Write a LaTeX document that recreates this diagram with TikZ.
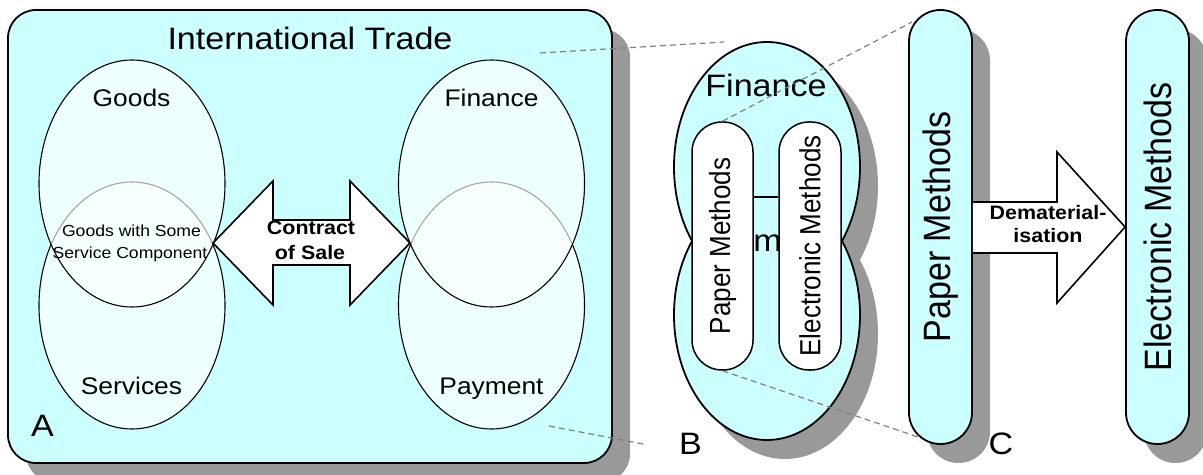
\documentclass[tikz,border=0pt]{standalone}
\usepackage{fontspec}
\setmainfont{Liberation Sans}
\newfontfamily\widefont{Liberation Sans}[FakeStretch=1.1]
\usetikzlibrary{shapes.geometric,shadows}
\definecolor{paleblue}{RGB}{204,255,255}
\definecolor{shadowgray}{RGB}{153,153,153}
\definecolor{zoomgray}{RGB}{128,128,128}
\newcommand{\setfs}[1]{\fontsize{#1bp}{#1bp}\selectfont}
\newcommand{\vertlabel}[2]{\rotatebox{90}{\scalebox{1}[1.12]{\setfs{#1}#2}}}
\tikzset{
  panel/.style={draw, line width=1.8bp, fill=paleblue, rectangle, inner sep=0pt,
    drop shadow={shadow xshift=18bp, shadow yshift=-19bp, opacity=1, fill=shadowgray}},
  bigbox/.style={panel, rounded corners=28bp},
  pill/.style={panel, rounded corners=31.4bp, minimum width=63bp, minimum height=434bp},
  innerpill/.style={draw, line width=1.5bp, fill=white, rectangle, rounded corners=30bp,
    inner sep=0pt, minimum width=61bp, minimum height=248bp},
  venn/.style={ellipse, draw, line width=1.1bp, fill=white, fill opacity=0.65,
    inner sep=0pt, minimum width=186bp, minimum height=247bp},
  bigtxt/.style={font=\widefont\setfs{31}, anchor=base, inner sep=0pt},
  midtxt/.style={font=\widefont\setfs{24}, anchor=base, inner sep=0pt},
  smalltxt/.style={font=\widefont\setfs{16}, anchor=base, inner sep=0pt},
  boldtxt/.style={font=\widefont\bfseries\setfs{19.5}, anchor=base, inner sep=0pt},
  zoomline/.style={draw=zoomgray, line width=1.2bp, dash pattern=on 6bp off 4bp},
  blockarrow/.style={draw, fill=white, line width=1.6bp, line join=miter},
  lobe/.style={x radius=93, y radius=125},
}
\begin{document}
\begin{tikzpicture}[x=1bp,y=1bp]
\useasboundingbox (0,0) rectangle (1203,-475);

% ---- Panel A: international trade overview ----
\node[bigbox, minimum width=604bp, minimum height=453bp] (A) at (310,-236.5) {};
\node[bigtxt] (title) at (310,-50) {International Trade};
\node[venn] (services) at (132,-305.5) {};
\node[venn] (goods) at (132,-183.5) {};
\node[venn] (payment) at (491.5,-305.5) {};
\node[venn] (finance) at (491.5,-183.5) {};
\node[midtxt] (goodslbl) at (131.5,-107) {Goods};
\node[midtxt] (serviceslbl) at (131.5,-395) {Services};
\node[midtxt] (financelbl) at (491.5,-107) {Finance};
\node[midtxt] (paymentlbl) at (491.5,-395) {Payment};
\node[smalltxt] (mix1) at (131.5,-237) {Goods with Some};
\node[smalltxt] (mix2) at (130,-259) {Service Component};

% double block arrow between the two pairs
\draw[blockarrow] (213,-243) -- (273,-181) -- (273,-220) -- (350,-220) -- (350,-181)
  -- (410,-243) -- (350,-305) -- (350,-265) -- (273,-265) -- (273,-305) -- cycle;
\node[boldtxt] (contract1) at (311,-235) {Contract};
\node[boldtxt] (contract2) at (310,-260) {of Sale};
\node[bigtxt] (labA) at (42.5,-437) {A};

% ---- Panel B: finance split into two lobes ----
\coordinate (btop) at (767,-167);
\coordinate (bbot) at (767,-315);
\fill[shadowgray] ([shift={(18,-19)}]btop) ellipse [lobe] ([shift={(18,-19)}]bbot) ellipse [lobe];
\fill[paleblue] (btop) ellipse [lobe] (bbot) ellipse [lobe];
\begin{scope}
  \clip (600,0) rectangle (900,-241);
  \draw[line width=1.8bp] (btop) ellipse [lobe];
\end{scope}
\begin{scope}
  \clip (600,-241) rectangle (900,-480);
  \draw[line width=1.8bp] (bbot) ellipse [lobe];
\end{scope}
\node[bigtxt] (bpay) at (762,-252) {Payment};
\node[innerpill] (bpaper) at (722.5,-246) {\vertlabel{26}{Paper Methods}};
\node[innerpill, minimum width=62bp] (belec) at (810,-246) {\vertlabel{26}{Electronic Methods}};
\coordinate (lk1) at ([yshift=49bp]bpaper.east);
\draw[line width=1.5bp] (lk1) -- (lk1 -| belec.west);
\node[bigtxt] (finB) at (766,-97) {Finance};
\node[bigtxt] (labB) at (690.6,-455) {B};

% ---- Panel C: dematerialisation ----
\node[pill] (cpaper) at (940.5,-227) {\vertlabel{34}{Paper Methods}};
\node[pill] (celec) at (1157.5,-227) {\vertlabel{34}{Electronic Methods}};
\node[bigtxt] (labC) at (1001,-455) {C};
\draw[blockarrow] ([yshift=25bp]cpaper.east) -- (1057,-202) -- (1057,-152) -- (celec.west)
  -- (1057,-303) -- (1057,-253) -- ([yshift=-26bp]cpaper.east);
\node[boldtxt] (demat1) at (1048,-220) {Dematerial-};
\node[boldtxt] (demat2) at (1048,-243) {isation};

% ---- zoom guides ----
\coordinate (zA1) at (540,-53);
\coordinate (zB1) at (724,-42);
\coordinate (zA2) at (549,-426);
\coordinate (zB2) at (643,-444);
\coordinate (zC1) at (912,-22);
\coordinate (zC2) at (918,-437);
\draw[zoomline] (zA1) -- (zB1);
\draw[zoomline] (zA2) -- (zB2);
\draw[zoomline] (bpaper.north) -- (zC1);
\draw[zoomline] (bpaper.south) -- (zC2);
\end{tikzpicture}
\end{document}
